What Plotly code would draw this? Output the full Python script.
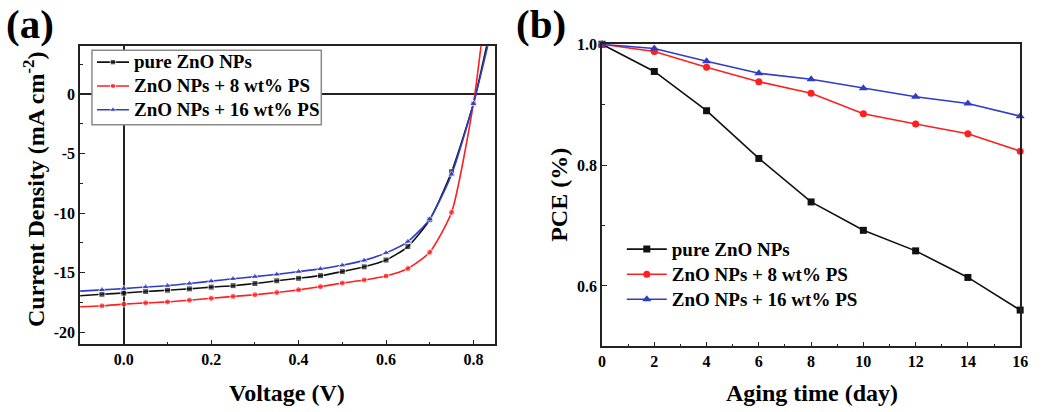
import plotly.graph_objects as go

# ---------- data: panel (a) J-V curves ----------
v_a = [-0.1, -0.05, 0.0, 0.05, 0.1, 0.15, 0.2, 0.25, 0.3, 0.35, 0.4, 0.45, 0.5,
       0.55, 0.6, 0.65, 0.7, 0.75, 0.8]
j_pure = [-16.93, -16.8, -16.7, -16.57, -16.46, -16.35, -16.2, -16.08, -15.9, -15.67,
          -15.46, -15.24, -14.9, -14.5, -13.93, -12.8, -10.55, -6.53, -0.8]
j_ps8 = [-17.85, -17.77, -17.63, -17.52, -17.44, -17.3, -17.14, -16.98, -16.84, -16.65,
         -16.43, -16.16, -15.86, -15.6, -15.27, -14.64, -13.28, -9.93, -0.82]
j_ps16 = [-16.54, -16.43, -16.33, -16.19, -16.08, -15.9, -15.7, -15.5, -15.32, -15.13,
          -14.9, -14.67, -14.37, -13.96, -13.33, -12.38, -10.5, -6.75, -0.82]
# where each curve leaves the top of the frame
v_end = {"pure": 0.836, "ps8": 0.8205, "ps16": 0.839}
j_end = 5.0

# ---------- data: panel (b) aging ----------
days = [0, 2, 4, 6, 8, 10, 12, 14, 16]
pce_pure = [1.0, 0.955, 0.890, 0.811, 0.739, 0.692, 0.658, 0.614, 0.560]
pce_ps8 = [1.0, 0.988, 0.962, 0.938, 0.919, 0.885, 0.868, 0.852, 0.823]
pce_ps16 = [1.0, 0.993, 0.972, 0.952, 0.942, 0.927, 0.913, 0.902, 0.881]

names = ["pure ZnO NPs", "ZnO NPs + 8 wt% PS", "ZnO NPs + 16 wt% PS"]
colors = ["#111111", "#ff1f1f", "#2f3cc4"]
symbols = ["square", "circle", "triangle-up"]
msize_a = [6, 6, 7]
msize_b = [7, 7, 8]

FONT = "Liberation Serif"
W, H = 1042, 412


def px(xp):
    return xp / W


def py(yp):
    return 1 - yp / H


def big(name, size):
    return '<span style="font-size:%dpx">%s</span>' % (size, name)


fig = go.Figure()

# panel (a)
for key, jv, name, col, sym, ms in zip(["pure", "ps8", "ps16"], [j_pure, j_ps8, j_ps16],
                                       names, colors, symbols, msize_a):
    xs = v_a + [v_end[key]]
    ys = jv + [j_end]
    sizes = [0] + [ms] * (len(v_a) - 1) + [0]
    fig.add_trace(go.Scatter(
        x=xs, y=ys, mode="lines+markers", name=big(name, 19),
        line=dict(color=col, width=1.6, shape="spline", smoothing=0.6),
        marker=dict(symbol=sym, size=sizes, color=col),
        xaxis="x", yaxis="y", legend="legend"))

# panel (b)
for pv, name, col, sym, ms in zip([pce_pure, pce_ps8, pce_ps16], names, colors, symbols, msize_b):
    fig.add_trace(go.Scatter(
        x=days, y=pv, mode="lines+markers", name=big(name, 19),
        line=dict(color=col, width=1.6),
        marker=dict(symbol=sym, size=ms, color=col),
        xaxis="x2", yaxis="y2", legend="legend2", cliponaxis=False))

tickfont = dict(family=FONT, size=16, color="black", weight="bold")
axis_common = dict(showline=True, linecolor="#222", linewidth=1.6, mirror=True,
                   ticks="inside", ticklen=5, tickwidth=1.3, tickcolor="#222",
                   showgrid=False, tickfont=tickfont)

fig.update_layout(
    width=W, height=H,
    margin=dict(l=0, r=0, t=0, b=0),
    paper_bgcolor="white", plot_bgcolor="white",
    xaxis=dict(domain=[px(77), px(497)], range=[-0.1, 0.85],
               tickvals=[0.0, 0.2, 0.4, 0.6, 0.8], ticktext=["0.0", "0.2", "0.4", "0.6", "0.8"],
               minor=dict(dtick=0.1, tick0=0, ticks="inside", ticklen=3, tickcolor="#222"),
               zeroline=True, zerolinecolor="#222", zerolinewidth=1.6,
               anchor="y", **axis_common),
    yaxis=dict(domain=[py(343), py(39)], range=[-21, 4],
               tickvals=[0, -5, -10, -15, -20], ticktext=["0", "-5", "-10", "-15", "-20"],
               minor=dict(dtick=2.5, tick0=0, ticks="inside", ticklen=3, tickcolor="#222"),
               zeroline=True, zerolinecolor="#222", zerolinewidth=1.6,
               anchor="x", **axis_common),
    xaxis2=dict(domain=[px(605), px(1028)], range=[0, 16],
                tickvals=[0, 2, 4, 6, 8, 10, 12, 14, 16],
                minor=dict(dtick=1, tick0=0, ticks="inside", ticklen=3, tickcolor="#222"),
                zeroline=False, anchor="y2", **axis_common),
    yaxis2=dict(domain=[py(345), py(37)], range=[0.5, 1.0],
                tickvals=[0.6, 0.8, 1.0], ticktext=["0.6", "0.8", "1.0"],
                minor=dict(dtick=0.1, tick0=0.5, ticks="inside", ticklen=3, tickcolor="#222"),
                zeroline=False, anchor="x2", **axis_common),
    legend=dict(x=px(89), y=py(38), xanchor="left", yanchor="top",
                bgcolor="rgba(0,0,0,0)", borderwidth=0,
                font=dict(family=FONT, size=16, color="black", weight="bold"),
                tracegroupgap=0, itemwidth=32),
    legend2=dict(x=px(625), y=py(228), xanchor="left", yanchor="top",
                 bgcolor="rgba(0,0,0,0)", borderwidth=0,
                 font=dict(family=FONT, size=17, color="black", weight="bold"),
                 tracegroupgap=0, itemwidth=40),
    showlegend=True,
)

# white legend box of panel (a), hiding the zero lines behind it
fig.add_shape(type="rect", xref="paper", yref="paper",
              x0=px(89), x1=px(321), y0=py(119), y1=py(43),
              fillcolor="white", line=dict(color="#8a8a8a", width=1.5), layer="above")

title_font = dict(family=FONT, size=24, color="black", weight="bold")
fig.add_annotation(text="Voltage (V)", x=px(286), y=py(393), xref="paper", yref="paper",
                   showarrow=False, font=title_font, xanchor="center", yanchor="middle")
fig.add_annotation(text="Current Density (mA cm<sup>-2</sup>)", x=px(31), y=py(185),
                   xref="paper", yref="paper", showarrow=False, font=title_font, textangle=-90,
                   xanchor="center", yanchor="middle")
fig.add_annotation(text="Aging time (day)", x=px(817), y=py(393), xref="paper", yref="paper",
                   showarrow=False, font=title_font, xanchor="center", yanchor="middle")
fig.add_annotation(text="PCE (%)", x=px(562), y=py(191), xref="paper", yref="paper",
                   showarrow=False, font=title_font, textangle=-90,
                   xanchor="center", yanchor="middle")

label_font = dict(family=FONT, size=41, color="black", weight="bold")
fig.add_annotation(text="(a)", x=px(0), y=py(16), xref="paper", yref="paper",
                   showarrow=False, font=label_font, xanchor="left", yanchor="middle")
fig.add_annotation(text="(b)", x=px(516), y=py(16), xref="paper", yref="paper",
                   showarrow=False, font=label_font, xanchor="left", yanchor="middle")

fig.write_html("out.html", config={"displayModeBar": False},
               post_script="document.body.style.margin='0px';document.body.style.overflow='hidden';")
